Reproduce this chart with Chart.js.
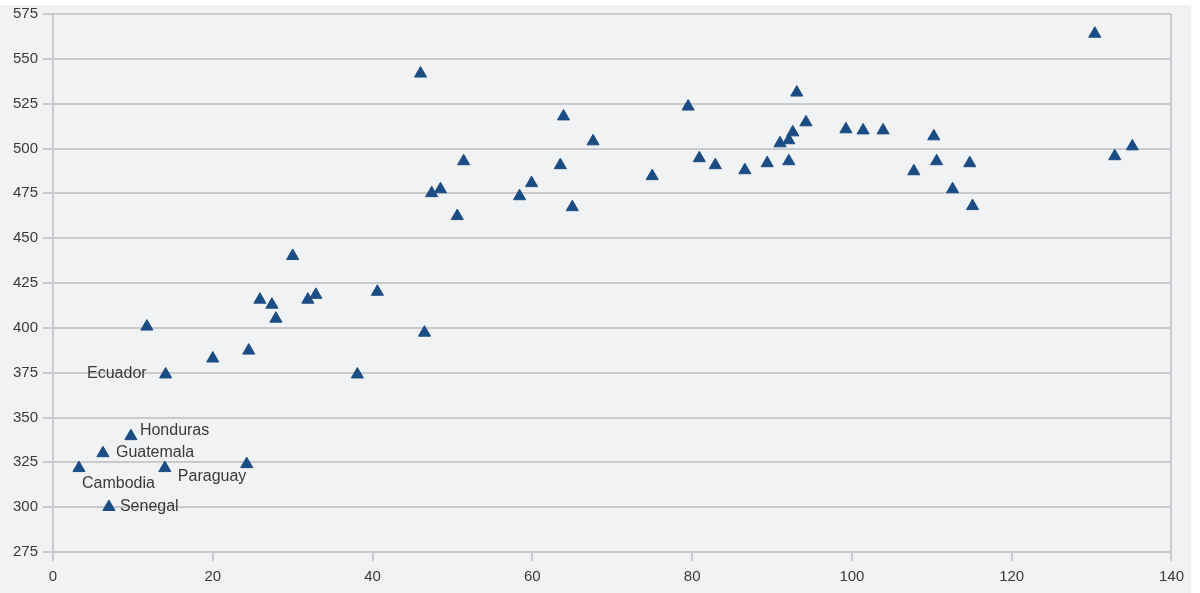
<!DOCTYPE html>
<html lang="en">
<head>
  <meta charset="UTF-8" />
  <title>Scatter</title>
  <script src="https://cdn.jsdelivr.net/npm/chart.js"></script>
  <style>
    html, body { margin: 0; padding: 0; background: #ffffff; }
    #wrap { position: absolute; left: 0; top: 0; width: 1191px; height: 593px; }
  </style>
</head>
<body>
  <div id="wrap">
    <canvas id="chart" width="1191" height="593"></canvas>
  </div>
  <script>
    // x values (horizontal axis) and y values (vertical axis), one entry per country
    const xValues = [3.25, 6.25, 9.75, 7.0, 14.0, 24.25, 14.1, 11.75, 20, 24.5,
      25.9, 27.4, 27.9, 30, 31.9, 32.9, 38.1, 40.6, 46.5, 46,
      47.4, 48.5, 50.6, 51.4, 58.4, 59.9, 63.5, 63.9, 65, 67.6,
      75, 79.5, 80.9, 82.9, 86.6, 89.4, 91, 92.1, 92.6, 92.1,
      93.1, 94.25, 99.25, 101.4, 103.9, 110.25, 107.75, 110.6, 114.75, 112.6,
      115.1, 130.4, 132.9, 135.1];
    const yValues = [321.8, 330.1, 339.6, 300.1, 321.8, 324, 374, 400.7, 382.9, 387.3,
      415.7, 412.9, 405.1, 440.1, 415.7, 418.4, 374, 420.1, 397.3, 541.8,
      475.1, 477.3, 462.3, 492.9, 473.4, 480.7, 490.7, 517.9, 467.3, 504,
      484.6, 523.4, 494.6, 490.7, 487.9, 491.8, 502.9, 504.6, 509, 492.9,
      531.2, 514.6, 510.7, 510.1, 510.1, 506.8, 487.3, 492.9, 491.8, 477.3,
      467.9, 564, 495.7, 501.2];
    const pointNames = ["Cambodia", "Guatemala", "Honduras", "Senegal", "Paraguay", "", "Ecuador"];

    const xTicks = [0, 20, 40, 60, 80, 100, 120, 140];
    const yTicks = [275, 300, 325, 350, 375, 400, 425, 450, 475, 500, 525, 550, 575];

    const points = xValues.map((x, i) => ({ x, y: yValues[i] }));

    const gridColor = "#c9cacd";
    const textColor = "#3a3a3a";

    // where each name sits relative to its marker
    const labelPlace = {
      Cambodia: { dx: 3, dy: 16, align: "left" },
      Guatemala: { dx: 13, dy: -1, align: "left" },
      Honduras: { dx: 9, dy: -6, align: "left" },
      Senegal: { dx: 11, dy: 0, align: "left" },
      Paraguay: { dx: 13, dy: 9, align: "left" },
      Ecuador: { dx: -19, dy: -1, align: "right" }
    };

    const background = {
      id: "background",
      beforeDraw(chart) {
        const c = chart.ctx;
        c.save();
        c.fillStyle = "#f1f2f4";
        c.fillRect(0, 5, chart.width, chart.height - 5);
        c.restore();
      }
    };

    const pointLabels = {
      id: "pointLabels",
      afterDatasetsDraw(chart) {
        const c = chart.ctx;
        const xs = chart.scales.x, ys = chart.scales.y;
        c.save();
        c.font = "16px 'Liberation Sans', Arial, sans-serif";
        c.fillStyle = textColor;
        c.textBaseline = "middle";
        pointNames.forEach((name, i) => {
          if (!name) return;
          const p = labelPlace[name];
          c.textAlign = p.align;
          c.fillText(name, xs.getPixelForValue(xValues[i]) + p.dx, ys.getPixelForValue(yValues[i]) + p.dy);
        });
        c.restore();
      }
    };

    new Chart(document.getElementById("chart"), {
      type: "scatter",
      data: {
        datasets: [{
          data: points,
          pointStyle: "triangle",
          pointRadius: 7,
          pointHoverRadius: 7,
          backgroundColor: "#1b4d84",
          borderColor: "#1b4d84",
          borderWidth: 1
        }]
      },
      options: {
        responsive: false,
        animation: false,
        layout: { padding: { top: 12, right: 17, left: 0, bottom: 0 } },
        plugins: {
          legend: { display: false },
          tooltip: { enabled: false }
        },
        scales: {
          x: {
            type: "linear",
            min: 0,
            max: 140,
            afterBuildTicks: s => { s.ticks = xTicks.map(v => ({ value: v })); },
            afterFit: s => { s.height = 41; },
            grid: {
              color: ctx => (ctx.tick && ctx.tick.value === 140 ? gridColor : "rgba(0,0,0,0)"),
              tickColor: gridColor,
              lineWidth: 2,
              tickLength: 9
            },
            border: { color: gridColor, width: 2 },
            ticks: {
              color: textColor,
              padding: 7,
              maxRotation: 0,
              font: { size: 15, family: "'Liberation Sans', Arial, sans-serif" }
            }
          },
          y: {
            type: "linear",
            min: 275,
            max: 575,
            afterBuildTicks: s => { s.ticks = yTicks.map(v => ({ value: v })); },
            afterFit: s => { s.width = 53; },
            grid: {
              color: gridColor,
              lineWidth: 2,
              tickLength: 10
            },
            border: { color: gridColor, width: 2 },
            ticks: {
              color: textColor,
              padding: 5,
              font: { size: 15, family: "'Liberation Sans', Arial, sans-serif" }
            }
          }
        }
      },
      plugins: [background, pointLabels]
    });
  </script>
</body>
</html>
